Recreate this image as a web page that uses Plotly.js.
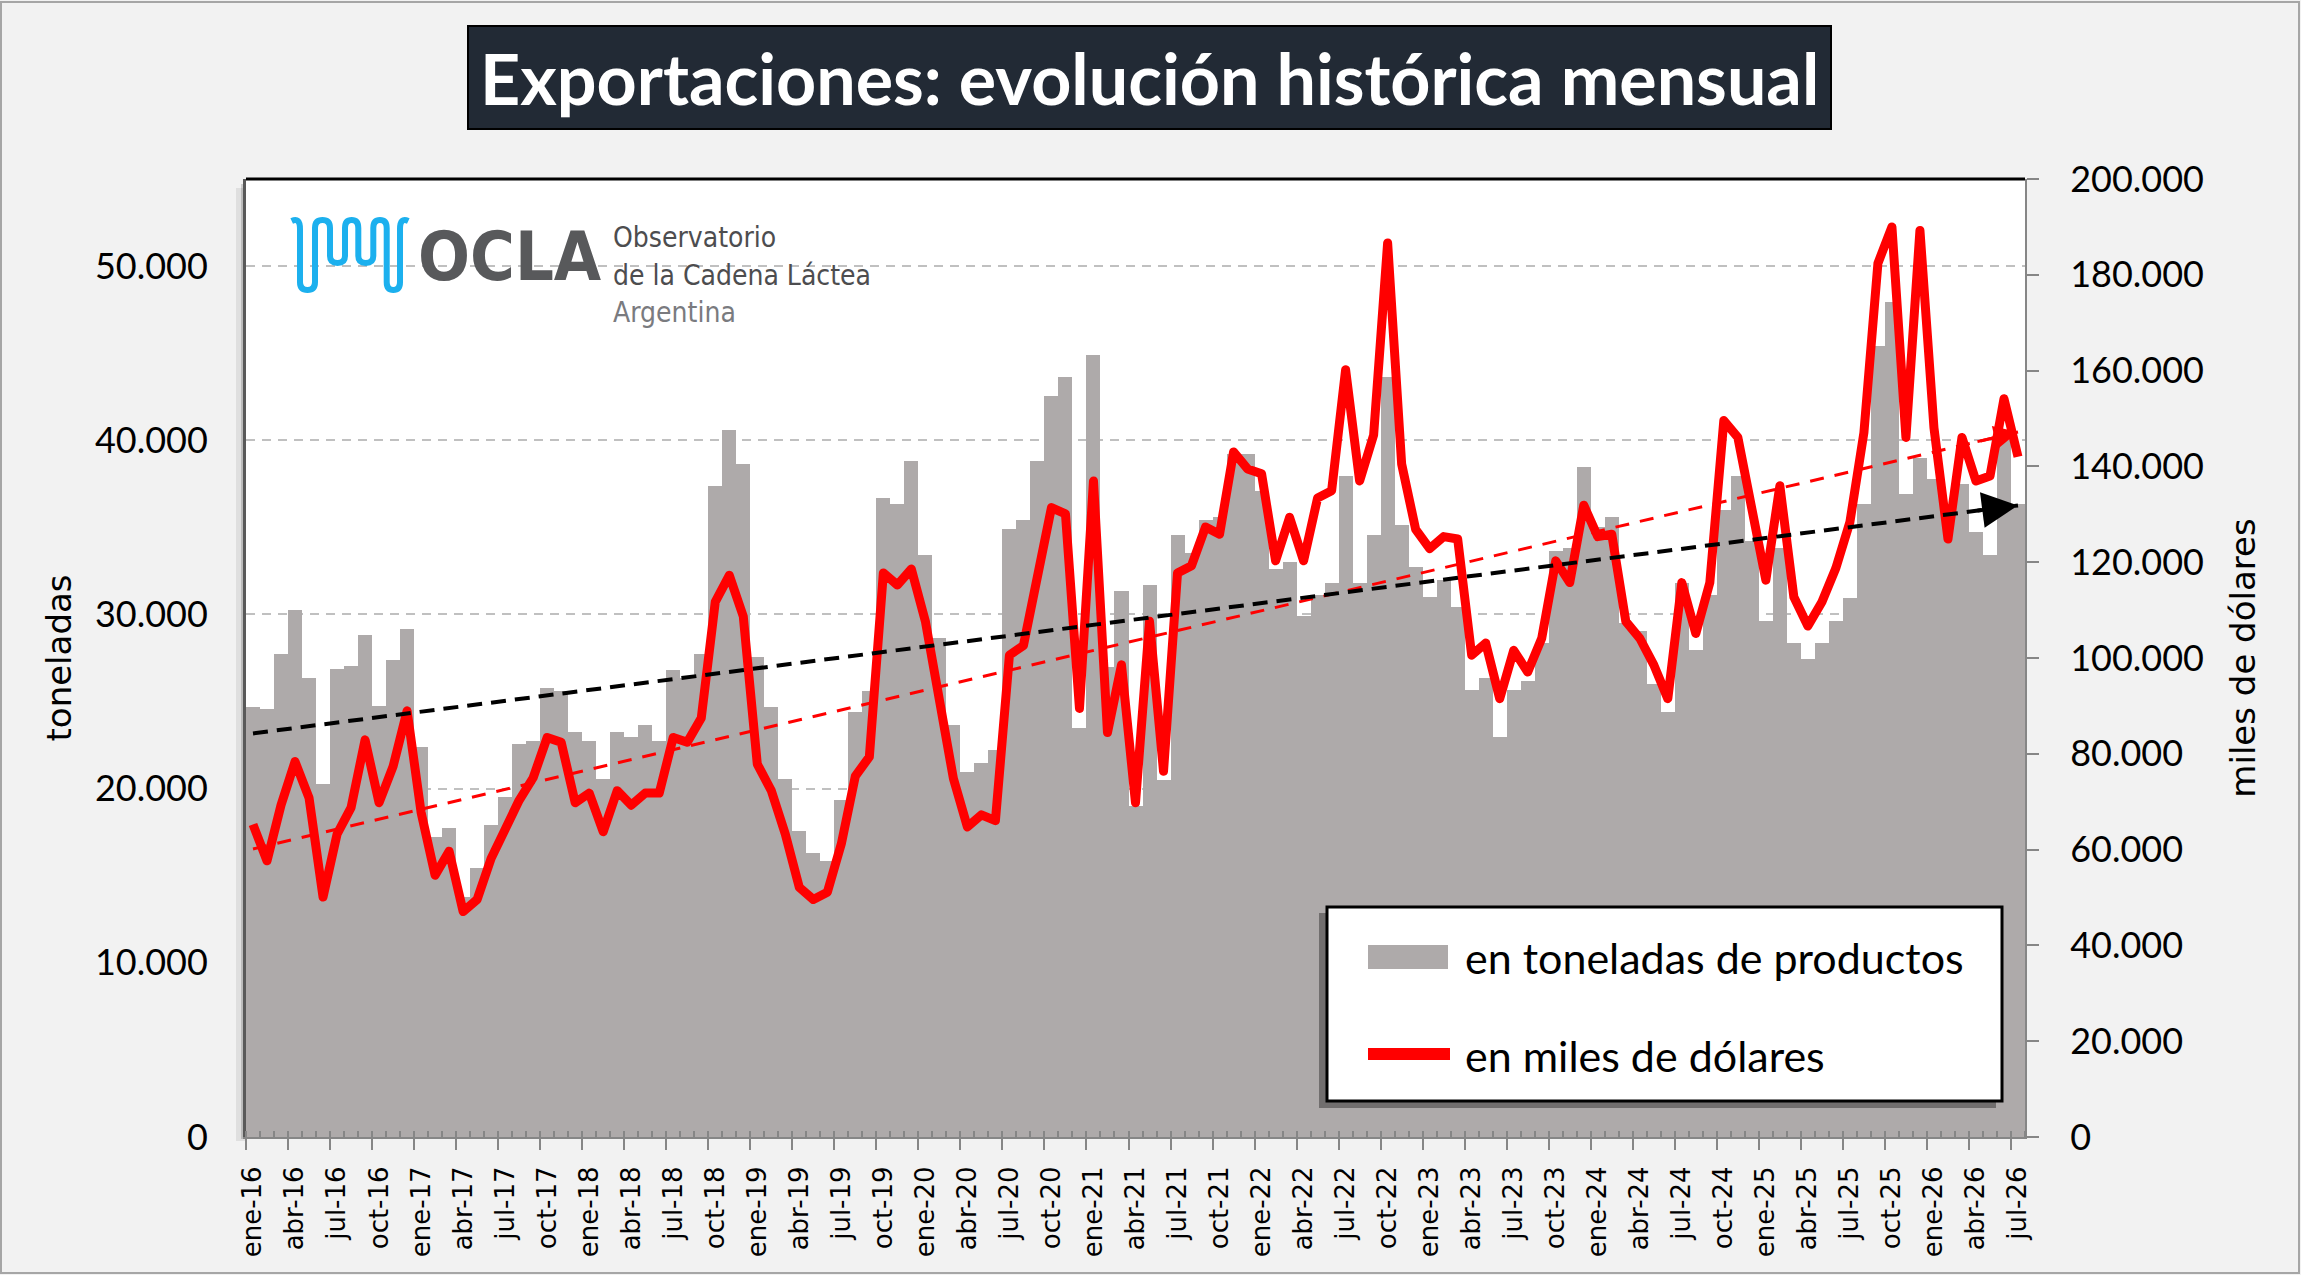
<!DOCTYPE html>
<html>
<head>
<meta charset="utf-8">
<script src="https://cdn.plot.ly/plotly-3.0.1.min.js"></script>
<style>
  html, body { margin: 0; padding: 0; background: #f2f2f2; }
  #chart { width: 2301px; height: 1275px; }
  #chart .scatterlayer .js-line { stroke-linejoin: round; }
</style>
</head>
<body>
<div id="chart"></div>
<script>
// meses ene-16 .. jul-26
var abrev = ['ene','feb','mar','abr','may','jun','jul','ago','sep','oct','nov','dic'];
var anios = ['16','17','18','19','20','21','22','23','24','25','26'];
var meses = [];
anios.forEach(function(a){
  abrev.forEach(function(m){ meses.push(m + '-' + a); });
});
meses = meses.slice(0, 127);

// exportaciones en toneladas de productos
var toneladas = [
  24700, 24550, 27750, 30250, 26330, 20250, 26890, 27060, 28810, 24750, 27390, 29190,
  22390, 17220, 17750, 13800, 15440, 17890, 19530, 22560, 22750, 25780, 25580, 23270,
  22750, 20580, 23270, 22940, 23640, 22750, 26830, 26330, 27750, 37390, 40580, 38640,
  27580, 24690, 20580, 17550, 16280, 15830, 19330, 24390, 25580, 36670, 36330, 38800,
  33440, 28640, 23640, 20940, 21470, 22190, 34890, 35440, 38800, 42550, 43640, 23500,
  44890, 27000, 31330, 19000, 31690, 20500, 34550, 33500, 35440, 35580, 39200, 39200,
  37110, 32610, 33000, 29940, 31140, 31830, 37940, 31800, 34550, 43640, 35110, 32750,
  31000, 32000, 30450, 25640, 26330, 22940, 25640, 26190, 28360, 33640, 33830, 38440,
  35000, 35580, 29500, 29060, 26000, 24390, 31830, 27950, 31140, 36000, 37940, 34190,
  29610, 33830, 28360, 27440, 28360, 29610, 30940, 36330, 45440, 47940, 36890, 39000,
  37800, 36000, 37500, 34720, 33440, 40000, 36330
];

// exportaciones en miles de dólares
var dolares = [
  65240, 57660, 69280, 78370, 70790, 50090, 63220, 68770, 82910, 69780, 77360, 88970,
  67760, 54630, 59670, 47060, 49580, 58160, 64230, 70290, 75000, 83420, 82410, 69780,
  71800, 63720, 72310, 69280, 71800, 71800, 83420, 82410, 87460, 111700, 117260, 108680,
  77860, 72310, 63220, 52110, 49580, 51100, 61200, 75340, 79370, 117760, 115240, 118570,
  107660, 91500, 74840, 64730, 67260, 66040, 100590, 102610, 116750, 131400, 130090, 89480,
  136950, 84430, 98570, 69780, 107660, 76360, 117760, 119280, 127360, 125840, 143020, 139480,
  138470, 120290, 129380, 120290, 133420, 134930, 160180, 136950, 146550, 186650, 140490, 126850,
  122820, 125340, 124840, 100590, 103120, 91500, 101600, 97060, 104120, 120290, 115740, 131900,
  125340, 125840, 107660, 104120, 98570, 91500, 115740, 105130, 115740, 149580, 146050, 130900,
  116250, 135950, 112720, 106660, 111700, 118780, 128370, 147060, 182410, 190000, 146050, 189270,
  148070, 124840, 146050, 136950, 137970, 154130, 142000
];

var rangoTon = [0, 55000];
var rangoUsd = [0, 200000];
var factor = rangoUsd[1] / rangoTon[1];

var idx = meses.map(function(m, i){ return i; });

// tendencia lineal (minimos cuadrados)
function tendencia(ys){
  var n = ys.length, sx = 0, sy = 0, sxx = 0, sxy = 0;
  for (var i = 0; i < n; i++){ sx += i; sy += ys[i]; sxx += i*i; sxy += i*ys[i]; }
  var b = (n*sxy - sx*sy) / (n*sxx - sx*sx);
  var a = (sy - b*sx) / n;
  return function(x){ return a + b*x; };
}
var tTon = tendencia(toneladas);
var tUsd = tendencia(dolares);
var xFin = idx.length - 1;

// marcas cada 3 meses, en el borde izquierdo de la barra
var tickV = [], tickT = [];
for (var i = 0; i < meses.length; i += 3){ tickV.push(i - 0.5); tickT.push(meses[i]); }

// pixel -> paper
var L = 246, T = 179, W = 1779, H = 958;
function px(x){ return (x - L) / W; }
function py(y){ return (T + H - y) / H; }
function ruta(cmds){
  return cmds.map(function(c){
    var s = c[0];
    for (var k = 1; k < c.length; k += 2){
      s += (k > 1 ? ' ' : '') + px(c[k]).toFixed(5) + ',' + py(c[k+1]).toFixed(5);
    }
    return s;
  }).join(' ');
}

var barras = {
  x: idx, y: toneladas, type: 'bar', name: 'en toneladas de productos',
  marker: {color: '#aeaaaa', line: {width: 0}}, yaxis: 'y', hoverinfo: 'x+y'
};
var linea = {
  x: idx, y: dolares, type: 'scatter', mode: 'lines', name: 'en miles de dólares',
  line: {color: '#ff0000', width: 9}, yaxis: 'y2'
};
var tendUsd = {
  x: [0, xFin], y: [tUsd(0), tUsd(xFin)], type: 'scatter', mode: 'lines',
  line: {color: '#ff0000', width: 3, dash: '14px,11px'}, yaxis: 'y2', hoverinfo: 'skip'
};
var tendTon = {
  x: [0, xFin], y: [tTon(0)*factor, tTon(xFin)*factor], type: 'scatter', mode: 'lines',
  line: {color: '#000000', width: 4, dash: '15px,9px'}, yaxis: 'y2', hoverinfo: 'skip'
};

var wave = ruta([
  ['M', 291.7, 221], ['Q', 300, 217, 300, 229], ['L', 300, 282],
  ['Q', 300, 290, 307.5, 290], ['Q', 315, 290, 315, 282], ['L', 315, 228],
  ['Q', 315, 220, 322.5, 220], ['Q', 330, 220, 330, 228], ['L', 330, 256],
  ['Q', 330, 263, 337.5, 263], ['Q', 345, 263, 345, 256], ['L', 345, 228],
  ['Q', 345, 220, 351.7, 220], ['Q', 358.3, 220, 358.3, 228], ['L', 358.3, 256],
  ['Q', 358.3, 263, 365.8, 263], ['Q', 373.3, 263, 373.3, 256], ['L', 373.3, 228],
  ['Q', 373.3, 220, 380, 220], ['Q', 386.7, 220, 386.7, 228], ['L', 386.7, 282],
  ['Q', 386.7, 290, 393.3, 290], ['Q', 400, 290, 400, 282], ['L', 400, 229],
  ['Q', 400, 217, 408.3, 221]
]);

var shapes = [
  // borde exterior
  {type: 'rect', xref: 'paper', yref: 'paper', x0: px(1), x1: px(2299), y0: py(1273), y1: py(2),
   line: {color: '#a6a6a6', width: 2}, fillcolor: 'rgba(0,0,0,0)', layer: 'below'},
  // sombra del area de grafico
  {type: 'rect', xref: 'paper', yref: 'paper', x0: px(236), x1: px(246), y0: py(1141), y1: py(188),
   line: {width: 0}, fillcolor: 'rgba(0,0,0,0.08)', layer: 'below'},
  {type: 'rect', xref: 'paper', yref: 'paper', x0: px(241), x1: px(246), y0: py(1139), y1: py(184),
   line: {width: 0}, fillcolor: 'rgba(0,0,0,0.16)', layer: 'below'},
  // borde superior del area de grafico
  {type: 'line', xref: 'paper', yref: 'paper', x0: 0, x1: 1, y0: 1, y1: 1,
   line: {color: '#000000', width: 3}},
  // caja del titulo
  {type: 'rect', xref: 'paper', yref: 'paper', x0: px(468), x1: px(1831), y0: py(129), y1: py(26),
   line: {color: '#000000', width: 2}, fillcolor: '#222a35'},
  // logo OCLA
  {type: 'path', xref: 'paper', yref: 'paper', path: wave,
   line: {color: '#1cb0ee', width: 6}, fillcolor: 'rgba(0,0,0,0)'},
  // leyenda: sombra, caja, muestras
  {type: 'rect', xref: 'paper', yref: 'paper', x0: px(1319), x1: px(1996), y0: py(1108), y1: py(913),
   line: {width: 0}, fillcolor: 'rgba(0,0,0,0.35)'},
  {type: 'rect', xref: 'paper', yref: 'paper', x0: px(1327), x1: px(2002), y0: py(1101), y1: py(907),
   line: {color: '#000000', width: 3}, fillcolor: '#ffffff'},
  {type: 'rect', xref: 'paper', yref: 'paper', x0: px(1368), x1: px(1448), y0: py(969), y1: py(945),
   line: {width: 0}, fillcolor: '#aeaaaa'},
  {type: 'line', xref: 'paper', yref: 'paper', x0: px(1368), x1: px(1450), y0: py(1054), y1: py(1054),
   line: {color: '#ff0000', width: 12}}
];

var logoFont = 'DejaVu Sans Condensed, Liberation Sans Narrow, sans-serif';

var annotations = [
  {xref: 'paper', yref: 'paper', x: px(1149.5), y: py(78), xanchor: 'center', yanchor: 'middle',
   showarrow: false, text: '<b>Exportaciones: evolución histórica mensual</b>',
   font: {family: 'Lato, sans-serif', size: 70, color: '#ffffff'}},
  {xref: 'paper', yref: 'paper', x: px(416), y: py(256), xanchor: 'left', yanchor: 'middle', showarrow: false,
   text: '<b>OCLA</b>', font: {family: logoFont, size: 68, color: '#58595b'}},
  {xref: 'paper', yref: 'paper', x: px(611), y: py(238), xanchor: 'left', yanchor: 'middle', showarrow: false,
   text: 'Observatorio', font: {family: logoFont, size: 28, color: '#4d4d4f'}},
  {xref: 'paper', yref: 'paper', x: px(611), y: py(275), xanchor: 'left', yanchor: 'middle', showarrow: false,
   text: 'de la Cadena Láctea', font: {family: logoFont, size: 28, color: '#4d4d4f'}},
  {xref: 'paper', yref: 'paper', x: px(611), y: py(312), xanchor: 'left', yanchor: 'middle', showarrow: false,
   text: 'Argentina', font: {family: logoFont, size: 28, color: '#7a7b7f'}},
  // textos de la leyenda
  {xref: 'paper', yref: 'paper', x: px(1463), y: py(958), xanchor: 'left', yanchor: 'middle', showarrow: false,
   text: 'en toneladas de productos', font: {family: 'Lato, sans-serif', size: 43, color: '#000000'}},
  {xref: 'paper', yref: 'paper', x: px(1463), y: py(1055), xanchor: 'left', yanchor: 'middle', showarrow: false,
   text: 'en miles de dólares', font: {family: 'Lato, sans-serif', size: 43, color: '#000000'}},
  // puntas de flecha de las tendencias
  {xref: 'x', yref: 'y2', axref: 'x', ayref: 'y2', x: xFin, y: tUsd(xFin),
   ax: xFin - 3, ay: tUsd(xFin - 3), text: '', showarrow: true,
   arrowhead: 2, arrowsize: 1.6, arrowwidth: 3, arrowcolor: '#ff0000', standoff: 0},
  {xref: 'x', yref: 'y2', axref: 'x', ayref: 'y2', x: xFin, y: tTon(xFin)*factor,
   ax: xFin - 3, ay: tTon(xFin - 3)*factor, text: '', showarrow: true,
   arrowhead: 2, arrowsize: 1.8, arrowwidth: 4, arrowcolor: '#000000', standoff: 0}
];

var tickFont = {family: 'Lato, sans-serif', size: 36, color: '#000000'};

var layout = {
  width: 2301, height: 1275,
  margin: {l: L, r: 2301 - L - W, t: T, b: 1275 - T - H, pad: 0},
  paper_bgcolor: '#f2f2f2', plot_bgcolor: '#ffffff',
  separators: ',.',
  showlegend: false,
  bargap: 0,
  xaxis: {
    range: [-0.5, xFin + 0.5], tickmode: 'array', tickvals: tickV, ticktext: tickT,
    tickangle: -90, ticks: 'outside', ticklen: 11, tickwidth: 2, tickcolor: '#868686',
    ticklabelshift: 7, ticklabelstandoff: 6,
    tickfont: {family: 'DejaVu Sans, sans-serif', size: 26, color: '#000000'},
    minor: {tickmode: 'linear', tick0: -0.5, dtick: 1, ticks: 'inside', ticklen: 6,
            tickwidth: 2, tickcolor: '#868686', showgrid: false},
    showgrid: false, zeroline: false,
    showline: true, linecolor: '#868686', linewidth: 2, fixedrange: true
  },
  yaxis: {
    range: rangoTon, tickmode: 'linear', tick0: 0, dtick: 10000, tickformat: ',d',
    tickfont: tickFont, ticks: '', ticklabelstandoff: 28,
    showgrid: true, gridcolor: '#c0c0c0', gridwidth: 2, griddash: '9px,7px',
    zeroline: false, showline: true, linecolor: '#595959', linewidth: 3,
    title: {text: 'toneladas', standoff: 13,
            font: {family: 'DejaVu Sans, sans-serif', size: 34, color: '#000000'}},
    fixedrange: true
  },
  yaxis2: {
    range: rangoUsd, overlaying: 'y', side: 'right', tickmode: 'linear', tick0: 0, dtick: 20000,
    tickformat: ',d', tickfont: tickFont, ticks: 'outside', ticklen: 12, tickwidth: 2,
    tickcolor: '#868686', ticklabelstandoff: 24,
    showgrid: false, zeroline: false, showline: true, linecolor: '#868686', linewidth: 2,
    title: {text: 'miles de dólares', standoff: 28,
            font: {family: 'DejaVu Sans, sans-serif', size: 34, color: '#000000'}},
    fixedrange: true
  },
  shapes: shapes,
  annotations: annotations
};

Plotly.newPlot('chart', [barras, linea, tendUsd, tendTon], layout, {displayModeBar: false, staticPlot: true});
</script>
</body>
</html>
